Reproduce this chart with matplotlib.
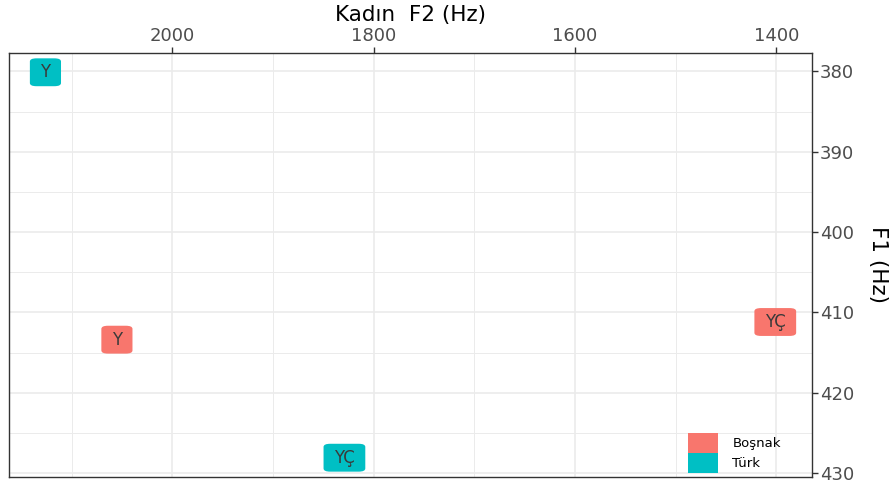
import matplotlib
matplotlib.use("Agg")
import matplotlib.pyplot as plt
from matplotlib.patches import Patch
from matplotlib.ticker import MultipleLocator

plt.rcParams['font.family'] = ['DejaVu Sans']

vowels = ["Y", "YÇ", "Y", "YÇ"]
groups = ["Boşnak", "Boşnak", "Türk", "Türk"]
f2 = [2055, 1401, 2126, 1829]
f1 = [413.4, 411.2, 380.1, 428.1]
colors = {"Boşnak": "#F8766D", "Türk": "#00BFC4"}

fig = plt.figure(figsize=(8.95, 4.84), dpi=100)
ax = fig.add_axes([0.01, 0.0145, 0.897, 0.876])

for v, g, x, y in zip(vowels, groups, f2, f1):
    ax.text(x, y, v, ha="center", va="center", fontsize=12, color="#3a3a3a",
            bbox=dict(boxstyle="round,pad=0.63,rounding_size=0.4",
                      mutation_aspect=0.47, fc=colors[g], ec="none"))

pad_x = (max(f2) - min(f2)) * 0.05
pad_y = (max(f1) - min(f1)) * 0.05
ax.set_xlim(max(f2) + pad_x, min(f2) - pad_x)
ax.set_ylim(max(f1) + pad_y, min(f1) - pad_y)

ax.xaxis.set_major_locator(MultipleLocator(200))
ax.xaxis.set_minor_locator(MultipleLocator(100))
ax.yaxis.set_major_locator(MultipleLocator(10))
ax.yaxis.set_minor_locator(MultipleLocator(5))
ax.xaxis.tick_top()
ax.xaxis.set_label_position("top")
ax.yaxis.tick_right()
ax.yaxis.set_label_position("right")

ax.grid(which="major", color="#EBEBEB", lw=1.2)
ax.grid(which="minor", color="#EBEBEB", lw=0.7)
ax.set_axisbelow(True)
ax.tick_params(which="major", length=4, width=1, color="#333333",
               labelsize=13, labelcolor="#4D4D4D", pad=2)
ax.tick_params(which="minor", length=0)
for s in ax.spines.values():
    s.set_color("#333333")
    s.set_linewidth(1)

ax.set_xlabel("Kadın  F2 (Hz)", fontsize=15.5, labelpad=4)
ax.set_ylabel("F1 (Hz)", fontsize=15.5, rotation=270, labelpad=24)

handles = [Patch(fc=colors[g], ec="none") for g in ["Boşnak", "Türk"]]
ax.legend(handles, ["Boşnak", "Türk"], loc="lower left",
          bbox_to_anchor=(0.8456, 0.009), frameon=False, fontsize=9.5,
          handlelength=2.27, handleheight=1.95, labelspacing=0,
          handletextpad=1.1, borderpad=0, borderaxespad=0)

fig.savefig("out.png", dpi=100)
